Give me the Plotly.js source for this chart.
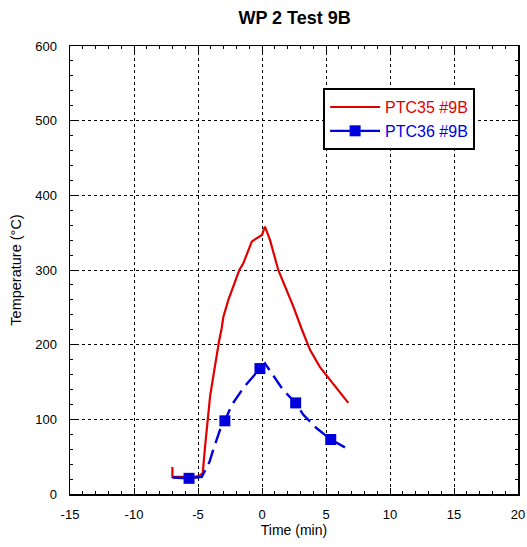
<!DOCTYPE html>
<html>
<head>
<meta charset="utf-8">
<script src="https://cdn.plot.ly/plotly-3.0.1.min.js"></script>
<style>html,body{margin:0;padding:0;background:#fff;}#chart{width:527px;height:547px;}</style>
</head>
<body>
<div id="chart"></div>
<script>
// PTC35 #9B (red, solid)
const redTime = [-7, -7, -6, -5.2, -4.85, -4.63, -4.45, -4.24, -4.06, -3.85, -3.6, -3.35, -3.15, -3.02, -2.63, -2.24, -1.77, -1.46, -1.07, -0.8, -0.55, 0, 0.23, 0.63, 1.27, 1.93, 2.45, 3.1, 3.75, 4.53, 5.3, 6.1, 6.74];
const redTemp = [36, 23, 23, 23, 25, 28, 63, 99, 130, 153, 182, 205, 222, 237, 260, 278, 300, 309, 327, 338, 341, 347, 358, 340, 300, 273, 251, 221, 193, 170, 153, 135, 122];
// PTC36 #9B (blue, dashed with square markers)
const blueTime = [-7, -5.7, -4.7, -4.1, -3.85, -3.28, -2.9, -2.37, -1.46, -0.6, -0.16, 0.23, 0.89, 1.66, 2.63, 3.23, 4.27, 5.37, 6.48];
const blueTemp = [22, 21, 23, 43, 57, 86, 98, 119, 142, 160, 168, 175, 159, 139, 122, 106, 88, 73, 62.5];
const blueMarked = [false, true, false, false, false, false, true, false, false, false, true, false, false, false, true, false, false, true, false];
const xTicks = [-15, -10, -5, 0, 5, 10, 15, 20];
const yTicks = [0, 100, 200, 300, 400, 500, 600];

const red = '#e00000', blue = '#0000dd';
const font = 'Liberation Sans, Arial, sans-serif';
const markTime = blueTime.filter((_, i) => blueMarked[i]);
const markTemp = blueTemp.filter((_, i) => blueMarked[i]);
const traces = [
  {x: redTime, y: redTemp, mode: 'lines', name: '<span style="color:' + red + '">PTC35 #9B</span>',
   line: {color: red, width: 2.2}},
  {x: blueTime, y: blueTemp, mode: 'lines', showlegend: false, legendgroup: 'b',
   line: {color: blue, width: 2.4, dash: '15px,7px'}},
  {x: markTime, y: markTemp, mode: 'markers', showlegend: false, legendgroup: 'b',
   marker: {symbol: 'square', color: blue, size: 11, line: {width: 0}}},
  {x: [null], y: [null], mode: 'lines+markers', legendgroup: 'b',
   name: '<span style="color:' + blue + '">PTC36 #9B</span>',
   line: {color: blue, width: 2.2}, marker: {symbol: 'square', color: blue, size: 11, line: {width: 0}}}
];
const axisCommon = {
  showline: true, linecolor: '#000', linewidth: 1.5, mirror: 'allticks',
  ticks: 'inside', ticklen: 6, tickcolor: '#000', tickwidth: 1,
  showgrid: true, gridcolor: '#000', gridwidth: 1, griddash: '3px,3px',
  zeroline: false, tickfont: {family: font, size: 13, color: '#000'}
};
const layout = {
  width: 527, height: 547,
  margin: {l: 70, r: 9, t: 46, b: 53},
  paper_bgcolor: '#fff', plot_bgcolor: '#fff',
  title: {text: '<b>WP 2 Test 9B</b>', x: 0.559, xanchor: 'center', y: 0.968, yanchor: 'middle',
          font: {family: font, size: 18, color: '#000'}},
  xaxis: Object.assign({}, axisCommon, {
    range: [-15, 20], tickvals: xTicks, ticktext: xTicks.map(String), ticklabelstandoff: 8,
    minor: {dtick: 1, ticks: 'inside', ticklen: 3, tickcolor: '#000', showgrid: false},
    title: {text: 'Time (min)', standoff: 4, font: {family: font, size: 14, color: '#000'}}
  }),
  yaxis: Object.assign({}, axisCommon, {
    range: [0, 600], tickvals: yTicks, ticktext: yTicks.map(String), ticklabelstandoff: 9,
    minor: {dtick: 20, ticks: 'inside', ticklen: 3, tickcolor: '#000', showgrid: false},
    title: {text: 'Temperature (°C)', standoff: 10, font: {family: font, size: 14.5, color: '#000'}}
  }),
  showlegend: true,
  legend: {x: 0.565, y: 0.906, xanchor: 'left', yanchor: 'top', bgcolor: '#fff',
           bordercolor: '#000', borderwidth: 2, itemwidth: 50,
           font: {family: font, size: 16}, tracegroupgap: 0}
};
Plotly.newPlot('chart', traces, layout, {staticPlot: true, displayModeBar: false});
</script>
</body>
</html>
